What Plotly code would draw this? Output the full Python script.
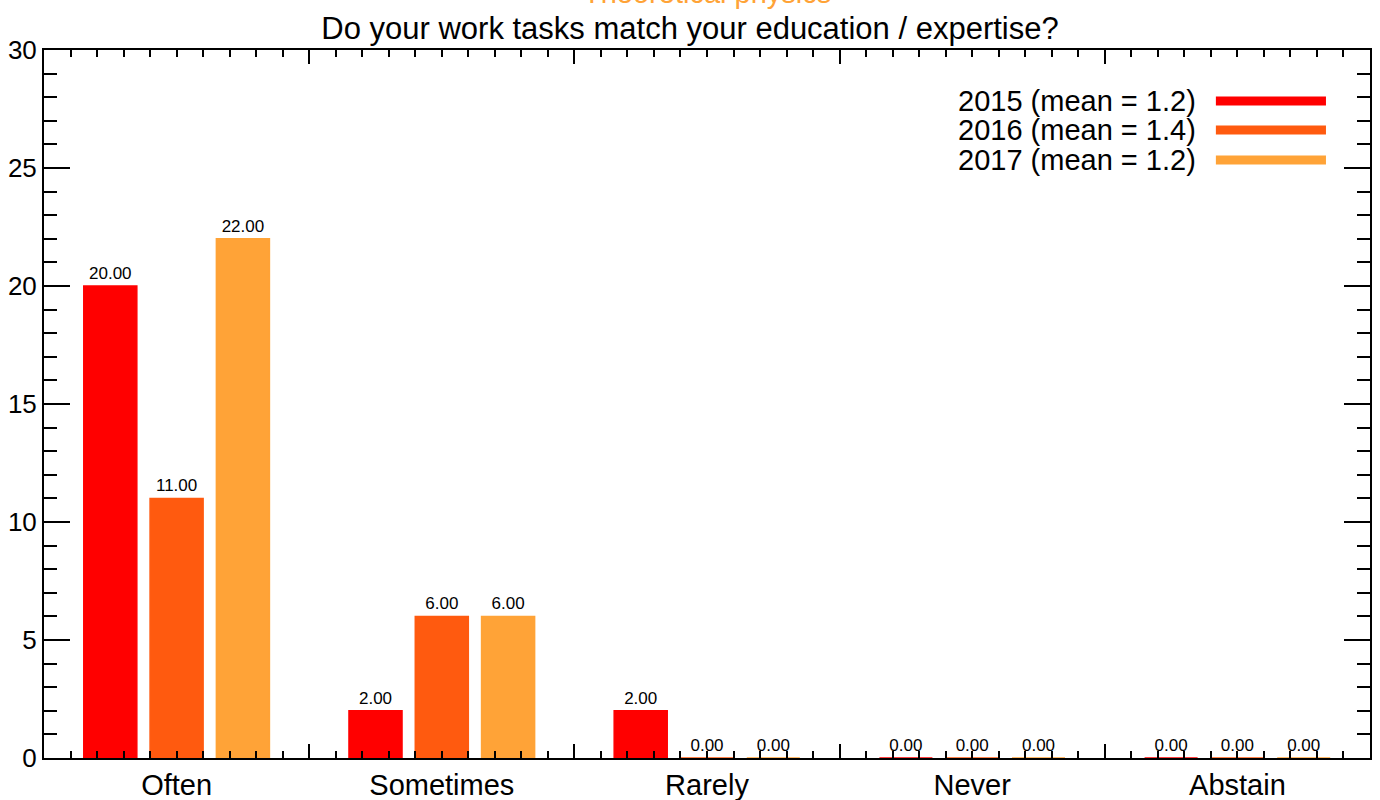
import plotly.graph_objects as go

categories = ["Often", "Sometimes", "Rarely", "Never", "Abstain"]
years = ["2015", "2016", "2017"]
values_2015 = [20, 2, 2, 0, 0]
values_2016 = [11, 6, 0, 0, 0]
values_2017 = [22, 6, 0, 0, 0]
means = [1.2, 1.4, 1.2]
colors = ["#FF0000", "#FF5A0F", "#FFA337"]
title_text = "Do your work tasks match your education / expertise?"
subtitle_text = "Theoretical physics"

series = [values_2015, values_2016, values_2017]
xpos = list(range(len(categories)))
FONT = "Liberation Sans, Arial, Helvetica, sans-serif"

fig = go.Figure()
for yr, vals, col in zip(years, series, colors):
    fig.add_trace(go.Bar(
        x=xpos, y=vals, name=yr,
        marker=dict(color=col, line=dict(color=col, width=1.5)),
        text=[f"{v:.2f}" for v in vals], textposition="outside",
        textfont=dict(size=17, color="black", family=FONT),
        cliponaxis=False, showlegend=False,
    ))

# dummy trace for tick-mark axes
fig.add_trace(go.Scatter(x=[0], y=[0], xaxis="x2", yaxis="y2", mode="markers",
                         marker=dict(opacity=0), showlegend=False, hoverinfo="skip"))

fig.update_layout(
    width=1380, height=800,
    paper_bgcolor="white", plot_bgcolor="white",
    margin=dict(l=44, r=10, t=50, b=42, autoexpand=False),
    barmode="group", bargap=0.25, bargroupgap=0.2,
    font=dict(family=FONT, color="black"),
    title=dict(text=title_text, x=0.5, xanchor="center", y=1 - 28 / 800,
               yanchor="middle", font=dict(size=31, color="black", family=FONT)),
    xaxis=dict(range=[-0.5, 4.5], tickvals=xpos, ticktext=categories,
               ticks="", showline=True, linewidth=2, linecolor="black",
               mirror=True, showgrid=False, zeroline=False, automargin=False,
               tickfont=dict(size=29, family=FONT)),
    xaxis2=dict(overlaying="x", matches="x", range=[-0.5, 4.5], side="bottom",
                anchor="y", automargin=False,
                tickvals=[i - 0.5 for i in range(len(categories) + 1)],
                showticklabels=False, ticks="inside", ticklen=14, tickwidth=1.5,
                tickcolor="black", mirror="allticks", showline=False,
                showgrid=False, zeroline=False,
                minor=dict(dtick=0.1, tick0=-0.5, ticks="inside", ticklen=7,
                           tickwidth=1.5, tickcolor="black", showgrid=False)),
    yaxis=dict(range=[0, 30], dtick=5, ticks="inside", ticklen=26, tickwidth=1.5,
               tickcolor="black", showline=True, linewidth=2, linecolor="black",
               mirror="allticks", showgrid=False, zeroline=False, automargin=False,
               tickfont=dict(size=26, family=FONT)),
    yaxis2=dict(overlaying="y", matches="y", range=[0, 30], side="left",
                anchor="x", automargin=False, showticklabels=False,
                tickvals=list(range(0, 31)), ticks="inside", ticklen=13,
                tickwidth=1.5, tickcolor="black", mirror="allticks",
                showline=False, showgrid=False, zeroline=False),
)

fig.add_annotation(text=subtitle_text, xref="paper", yref="paper",
                   x=0.5, y=1 + 57 / 708, xanchor="center", yanchor="middle",
                   showarrow=False, font=dict(size=29, color=colors[2], family=FONT))

leg_y = [(758 - 101) / 708, (758 - 130) / 708, (758 - 160) / 708]
for yr, m, col, ly in zip(years, means, colors, leg_y):
    fig.add_annotation(text=f"{yr} (mean = {m:.1f})", xref="paper", yref="paper",
                       x=(1197 - 44) / 1325, y=ly, xanchor="right", yanchor="middle",
                       showarrow=False, font=dict(size=29, color="black", family=FONT))
    fig.add_shape(type="line", xref="paper", yref="paper",
                  x0=(1215 - 44) / 1325, x1=(1325 - 44) / 1325, y0=ly, y1=ly,
                  line=dict(color=col, width=9))

fig.write_html("out.html", config={"displayModeBar": False},
               post_script="document.body.style.margin='0';document.body.style.overflow='hidden';")
